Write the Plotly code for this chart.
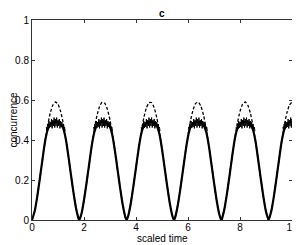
import plotly.graph_objects as go

# sampling grid (scaled time)
time = [round(0.1 * i, 1) for i in range(101)]

# dashed curve
dashed = [0.000, 0.042, 0.116, 0.206, 0.300, 0.391, 0.471, 0.534, 0.574, 0.590,
          0.579, 0.543, 0.485, 0.408, 0.319, 0.224, 0.133, 0.055, 0.004, 0.030,
          0.100, 0.187, 0.281, 0.373, 0.456, 0.523, 0.568, 0.589, 0.584, 0.553,
          0.499, 0.424, 0.337, 0.243, 0.151, 0.069, 0.011, 0.020, 0.084, 0.169,
          0.262, 0.355, 0.441, 0.511, 0.561, 0.587, 0.587, 0.561, 0.511, 0.441,
          0.355, 0.262, 0.169, 0.084, 0.020, 0.011, 0.069, 0.151, 0.243, 0.337,
          0.424, 0.499, 0.553, 0.584, 0.589, 0.568, 0.523, 0.456, 0.373, 0.281,
          0.187, 0.100, 0.030, 0.004, 0.055, 0.133, 0.224, 0.319, 0.408, 0.485,
          0.543, 0.579, 0.590, 0.574, 0.534, 0.471, 0.391, 0.300, 0.206, 0.116,
          0.042, 0.000, 0.042, 0.116, 0.206, 0.300, 0.391, 0.471, 0.534, 0.574, 0.590]

# solid curve
solid = [0.000, 0.042, 0.116, 0.206, 0.300, 0.391, 0.450, 0.477, 0.487, 0.490,
         0.488, 0.480, 0.458, 0.405, 0.319, 0.224, 0.133, 0.055, 0.004, 0.030,
         0.100, 0.187, 0.281, 0.373, 0.440, 0.474, 0.486, 0.490, 0.490, 0.482,
         0.465, 0.418, 0.337, 0.243, 0.151, 0.069, 0.011, 0.020, 0.084, 0.169,
         0.262, 0.355, 0.430, 0.470, 0.484, 0.490, 0.490, 0.484, 0.470, 0.430,
         0.355, 0.262, 0.169, 0.084, 0.020, 0.011, 0.069, 0.151, 0.243, 0.337,
         0.418, 0.465, 0.482, 0.490, 0.490, 0.486, 0.474, 0.440, 0.373, 0.281,
         0.187, 0.100, 0.030, 0.004, 0.055, 0.133, 0.224, 0.319, 0.405, 0.458,
         0.480, 0.488, 0.490, 0.487, 0.477, 0.450, 0.391, 0.300, 0.206, 0.116,
         0.042, 0.000, 0.042, 0.116, 0.206, 0.300, 0.391, 0.450, 0.477, 0.487, 0.490]

# zero-crossing times (minima touch zero)
minima_t = [1.82, 3.64, 5.46, 7.28]

# fluctuation band of the solid curve around its maxima
peak_t = [0.9, 2.72, 4.55, 6.37, 8.2, 10.0]
band_off = [-0.35, -0.30, -0.25, -0.20, -0.15, -0.10, -0.05, 0.0,
            0.05, 0.10, 0.15, 0.20, 0.25, 0.30, 0.35]
band_hi = [0.465, 0.48, 0.495, 0.49, 0.505, 0.50, 0.512, 0.505,
           0.512, 0.50, 0.505, 0.495, 0.49, 0.48, 0.465]
band_lo = [0.445, 0.455, 0.46, 0.465, 0.458, 0.47, 0.462, 0.47,
           0.462, 0.47, 0.458, 0.465, 0.46, 0.455, 0.445]

# merge grid with minima
pts_d = sorted(list(zip(time, dashed)) + [(m, 0.0) for m in minima_t])
pts_s = sorted(list(zip(time, solid)) + [(m, 0.0) for m in minima_t])

bx, by = [], []
for c in peak_t:
    for o, h, l in zip(band_off, band_hi, band_lo):
        bx += [c + o, c + o + 0.025]
        by += [h, l]
    bx.append(None)
    by.append(None)

FONT = "Liberation Sans, Arial, sans-serif"

fig = go.Figure()
fig.add_trace(go.Scatter(x=[p[0] for p in pts_s], y=[p[1] for p in pts_s],
                         mode="lines", line=dict(color="black", width=2.2, shape="spline", smoothing=0.5),
                         hoverinfo="skip"))
fig.add_trace(go.Scatter(x=bx, y=by, mode="lines",
                         line=dict(color="black", width=1), hoverinfo="skip"))
fig.add_trace(go.Scatter(x=[p[0] for p in pts_d], y=[p[1] for p in pts_d],
                         mode="lines",
                         line=dict(color="black", width=1.3, dash="3px,2px", shape="spline", smoothing=0.5),
                         hoverinfo="skip"))

axis_common = dict(showline=True, linecolor="#333333", linewidth=1,
                   mirror="ticks", ticks="inside", ticklen=3, tickcolor="#333333",
                   showgrid=False, zeroline=False, automargin=False,
                   tickfont=dict(family=FONT, size=10, color="black"))

fig.update_layout(
    width=292, height=236,
    margin=dict(l=24, r=8, t=12, b=24, autoexpand=False),
    paper_bgcolor="white", plot_bgcolor="white",
    showlegend=False,
    xaxis=dict(range=[0, 10], tickvals=[0, 2, 4, 6, 8, 10], ticklabelstandoff=-2,
               **axis_common),
    yaxis=dict(range=[0, 1], tickvals=[0, 0.2, 0.4, 0.6, 0.8, 1],
               ticktext=["0", "0.2", "0.4", "0.6", "0.8", "1"], **axis_common),
    annotations=[
        dict(text="<b>c</b>", xref="paper", yref="paper", x=0.5, y=1.035,
             showarrow=False, xanchor="center", yanchor="middle",
             font=dict(family=FONT, size=10, color="black")),
        dict(text="scaled time", xref="paper", yref="paper", x=0.5, y=-0.09,
             showarrow=False, xanchor="center", yanchor="middle",
             font=dict(family=FONT, size=10, color="black")),
        dict(text="concurrence", xref="paper", yref="paper", x=-0.075, y=0.5,
             showarrow=False, xanchor="center", yanchor="middle", textangle=-90,
             font=dict(family=FONT, size=10, color="black")),
    ],
)

fig.write_html("out.html")
